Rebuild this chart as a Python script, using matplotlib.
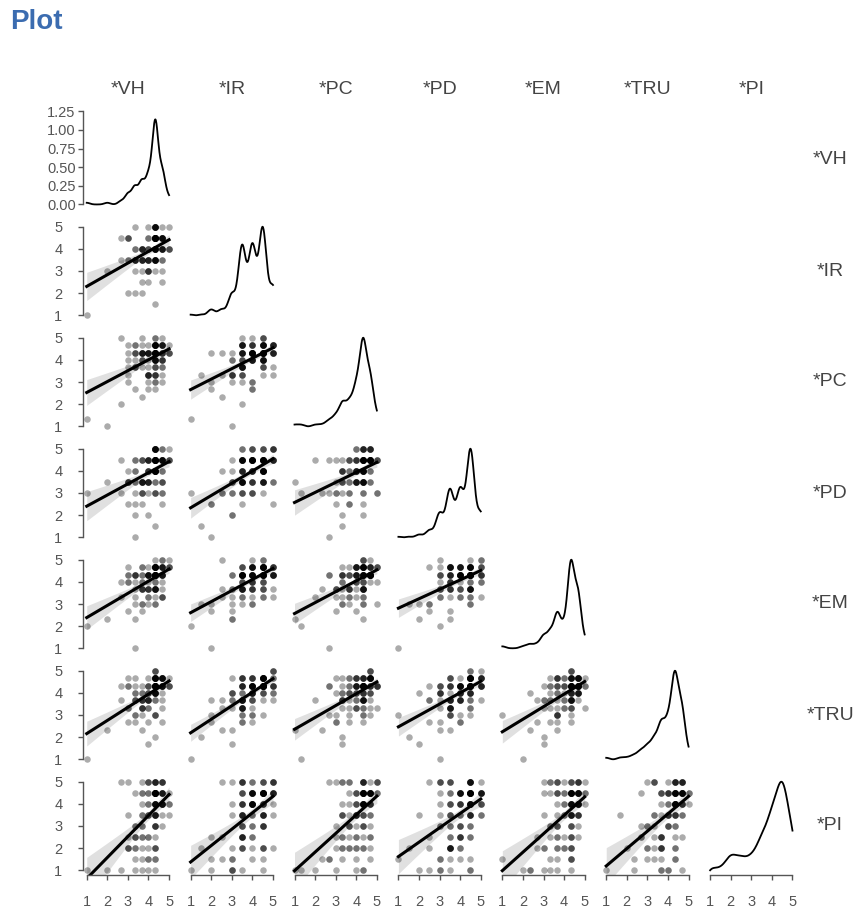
import numpy as np
import matplotlib
matplotlib.use("Agg")
import matplotlib.pyplot as plt

plt.rcParams["font.family"] = ["Liberation Sans", "DejaVu Sans"]

LABELS = ["*VH", "*IR", "*PC", "*PD", "*EM", "*TRU", "*PI"]

# respondent scale scores, same respondent order in every list
VH = [1, 3.33, 2, 4.33, 2.67, 3, 3.67, 3.33, 4.67, 3, 4, 4.33,
      3.67, 4, 3.33, 4.33, 3.67, 3, 4, 3.67, 4.33, 3.33, 4, 3.67, 4, 3.33, 3.67, 4.33, 4, 3.67, 4,
      4.33, 4.67, 3.33, 4.33, 4.33, 4.67, 5, 4, 3, 4.67, 4.33, 4, 4.67, 4.33, 3.33, 4.67, 4, 4.33, 4.67,
      4.33, 4.33, 4, 3, 3.67, 4.33, 4.33, 4.67, 4, 4.33, 4.33, 3.33, 4.33, 3.33, 4.33, 4.67, 3.67, 3.67,
      4.33, 4.33, 4, 4.33, 4.33, 3.33, 4, 4.33, 4.67, 3.67, 4.33, 3.67, 4.67, 4, 4.33, 4.67, 4.33,
      4.67, 4.33, 5, 4.33, 4.67, 4.33, 4.33, 4.33, 4.33, 4.33, 4.67, 2.67, 4.33, 4, 4.67, 5, 4.33, 4.33,
      4.33, 4.33, 4.67, 4.33, 4.33, 4.33, 4.33, 4.67, 3, 4.33, 5, 4.33, 4.33, 4.67, 3.67, 4.33, 4.33]
IR = [1, 2, 3, 1.5, 3.5, 2, 2.5, 3, 4, 3.5, 3, 4.5,
      3.5, 3, 3.5, 4, 2, 3.5, 3.5, 3, 4, 3.5, 2.5, 3.5, 3, 3.5, 4, 3.5, 3, 3.5, 3.5,
      4, 4.5, 3.5, 4, 4.5, 4, 5, 3.5, 4.5, 4, 4.5, 3.5, 4, 4.5, 4, 3.5, 4.5, 4, 4.5,
      4, 4.5, 3.5, 4.5, 4, 3.5, 4.5, 4, 5, 4.5, 4, 3.5, 4.5, 4, 3, 4.5, 3.5, 4,
      4.5, 4.5, 4, 3.5, 4.5, 5, 4, 4.5, 3.5, 4, 4.5, 3.5, 4.5, 4, 3.5, 4.5, 4,
      3, 5, 4, 4.5, 2.5, 5, 4.5, 3.5, 4.5, 5, 4, 4.5, 5, 4.5, 4.5, 4, 5, 4.5,
      3.5, 3.5, 5, 4.5, 4, 4.5, 3.5, 4.5, 4.5, 5, 4, 4.5, 5, 4.5, 4, 4.5, 5]
PC = [1.33, 2.67, 1, 3.33, 2, 3, 2.33, 4.33, 3, 3.67, 3.33, 4.33,
      4, 3.33, 3.67, 3, 4.33, 3.33, 3.67, 4, 2.67, 3.67, 3.33, 4, 3, 3.67, 4.33, 3.33, 4, 3.67, 3.33,
      4.33, 4, 4.67, 4.33, 3.67, 4, 4.33, 4.33, 4, 4.67, 3.33, 4.33, 4, 4.33, 4, 4.67, 4.33, 4, 4.33,
      4.33, 4, 4.33, 4.67, 4.33, 3.67, 4.33, 4, 3.33, 4.67, 4.33, 4.33, 4, 4.67, 3.33, 4.33, 4.67, 4.33,
      4, 4.33, 4.67, 4.33, 3.67, 4.33, 2.67, 4.33, 4.67, 4.33, 4, 4.33, 4.67, 4.33, 4, 4.67, 4.33,
      3.33, 4.33, 4.67, 5, 4.33, 4.67, 4.33, 3, 4, 4.67, 4.33, 5, 4.67, 4.33, 3.67, 4.33, 4.67, 4.33,
      5, 4.67, 3.67, 4.67, 4, 4.33, 4.67, 5, 4.33, 4.67, 4.33, 4.67, 4.33, 4.67, 5, 4.67, 4.33]
PD = [3, 1, 3.5, 1.5, 4.5, 2.5, 3, 2, 3, 3.5, 2, 4,
      3.5, 4, 3, 3.5, 2.5, 3.5, 4, 3.5, 3, 3.5, 4, 3.5, 3, 2.5, 3.5, 4, 3.5, 3, 3.5,
      4.5, 3.5, 4, 4.5, 4, 5, 4.5, 3.5, 4, 4.5, 4, 4.5, 3.5, 4, 4.5, 4.5, 3.5, 4, 4.5,
      4.5, 4, 4.5, 3.5, 3, 4.5, 4.5, 4, 3.5, 4.5, 5, 4, 4.5, 4.5, 3, 4, 4.5, 3.5,
      4.5, 4, 4.5, 4, 4.5, 3.5, 4.5, 4, 5, 4.5, 4, 3.5, 4.5, 4, 4.5, 3.5, 4,
      4.5, 5, 4.5, 4.5, 3, 5, 4.5, 4.5, 5, 4.5, 4.5, 3, 5, 4.5, 4.5, 5, 4.5,
      3.5, 3, 5, 2.5, 4.5, 4, 5, 4.5, 4.5, 3.5, 4.5, 4.5, 4, 5, 4.5, 4.5, 5, 4.5]
EM = [2, 1, 2.33, 3, 3.33, 2.67, 3.67, 2.33, 3.33, 4.33, 3, 3.67,
      3.67, 4.33, 3.33, 3.67, 3, 4, 3.67, 2.67, 4.33, 3.67, 3.33, 4, 3.67, 3, 3.67, 4.33, 3.33, 3.67, 4,
      4.33, 4.67, 4.33, 3.67, 4.33, 4, 4.67, 4.33, 4.33, 4.67, 4.33, 3.67, 4.33, 4.67, 4, 4.33, 4.33, 4.67, 4.33,
      3, 4.67, 4.33, 4, 4.33, 4.33, 3.67, 4.33, 4.67, 4.33, 4, 4.33, 4.67, 4.33, 4.33, 3.33, 4.33, 4.67,
      4.33, 4, 4.33, 4.67, 3.67, 4.33, 4.33, 4.67, 4.33, 4, 4.33, 4.67, 4.33, 3.67, 4.33, 4.67, 4.33,
      3.67, 4.33, 4.67, 4.67, 5, 4.33, 4.67, 3.67, 4.67, 4.33, 4.67, 4, 4.67, 4.33, 3.33, 5, 4.33, 4.67,
      4.67, 4.33, 4.67, 4.33, 4.67, 5, 4.33, 4.67, 4.67, 4.33, 4.67, 4.33, 3.33, 5, 3, 4.67, 3.67]
TRU = [1, 3, 2.33, 2, 3.67, 2.67, 2.33, 4, 2.67, 3.33, 1.67, 3,
       3.33, 3.67, 4, 3, 3.67, 3.33, 2.67, 3.67, 4.33, 3, 3.67, 3.33, 4, 3.67, 3, 3.67, 3.33, 4, 3.67,
       4, 4.33, 3.67, 4.33, 4, 4.67, 4.33, 3.33, 4.33, 4, 4.33, 3.67, 4.33, 4, 4.67, 4.33, 3.67, 4, 4.33,
       4.33, 4, 4.67, 4.33, 3.67, 4.33, 4.33, 3.67, 4, 4.33, 3.67, 2.67, 4.67, 4.33, 4, 4.33, 3.33, 4.33,
       4.67, 4.33, 4, 4.33, 4.67, 3.67, 4.33, 4.33, 4.67, 4, 4.33, 3.67, 4.67, 4.33, 4.33, 4.67, 4.33,
       4.67, 4.33, 4.67, 4.33, 3.33, 5, 4.33, 4.67, 4.33, 4, 4.67, 4.33, 4.67, 4.33, 4.67, 4.33, 5, 4.67,
       4.33, 4.67, 4.33, 4.67, 4, 4.33, 3, 4.33, 4.67, 5, 4.33, 4.67, 4.33, 4.67, 3.33, 4.67, 4.67]
PI = [1, 1.5, 1, 2, 1, 2.5, 1.5, 1, 3, 2, 3.5, 2,
      2.5, 1.5, 3, 2, 1, 3.5, 2.5, 2, 1.5, 3, 2.5, 3.5, 1, 2, 3, 2.5, 1.5, 3.5, 2,
      3.5, 4, 2.5, 4.5, 3, 4, 3.5, 5, 2, 4, 3.5, 4.5, 4, 3, 2.5, 4, 3.5, 4.5, 4,
      4.5, 3.5, 4, 2, 4.5, 4, 3, 4.5, 5, 1.5, 4, 4.5, 3.5, 2.5, 4, 4.5, 3, 4,
      1, 4.5, 3.5, 4, 4.5, 2, 5, 4, 3.5, 4.5, 3, 2.5, 4.5, 4, 3.5, 4.5, 4,
      5, 4.5, 4, 4.5, 5, 4.5, 4.5, 5, 3.5, 4.5, 4, 5, 4.5, 4.5, 5, 4.5, 4, 4.5,
      5, 4.5, 5, 4.5, 4.5, 4, 5, 4.5, 5, 4.5, 4, 4.5, 5, 4.5, 5, 4.5, 5]

DATA = [VH, IR, PC, PD, EM, TRU, PI]
assert all(len(d) == 120 for d in DATA), [len(d) for d in DATA]

DENSITY_TICKS = [0, 0.25, 0.5, 0.75, 1.0, 1.25]
SCALE_TICKS = [1, 2, 3, 4, 5]
BW_ADJUST = 0.62

W, H = 866, 909
TICK_GRAY = "#555555"


def kde(values, grid):
    x = np.asarray(values, float)
    bw = BW_ADJUST * x.std(ddof=1) * len(x) ** (-1 / 5)
    z = (grid[:, None] - x[None, :]) / bw
    return np.exp(-0.5 * z ** 2).sum(axis=1) / (len(x) * bw * np.sqrt(2 * np.pi))


def reg_fit(x, y, grid):
    slope, intercept = np.polyfit(x, y, 1)
    fit = intercept + slope * grid
    resid = y - (intercept + slope * x)
    n = len(x)
    s = np.sqrt((resid ** 2).sum() / (n - 2))
    se = s * np.sqrt(1 / n + (grid - x.mean()) ** 2 / ((x - x.mean()) ** 2).sum())
    return fit, 1.98 * se


def panel_rect(i, j):
    left = 82.6 + 103.9 * j
    top = 111.3 + 111.0 * i
    return [left / W, 1 - (top + 97.4) / H, 90.6 / W, 97.4 / H]


def style(ax, show_x, show_y):
    for side in ["top", "right"]:
        ax.spines[side].set_visible(False)
    ax.spines["left"].set_visible(show_y)
    ax.spines["bottom"].set_visible(show_x)
    for side in ["left", "bottom"]:
        ax.spines[side].set_color(TICK_GRAY)
        ax.spines[side].set_linewidth(1.0)
    ax.tick_params(axis="both", direction="out", length=3.5, width=1.0,
                   color=TICK_GRAY, labelcolor=TICK_GRAY, labelsize=10.5)
    ax.tick_params(axis="x", bottom=show_x, labelbottom=show_x, pad=11)
    ax.tick_params(axis="y", left=show_y, labelleft=show_y, pad=11)


fig = plt.figure(figsize=(W / 100, H / 100), dpi=100)
n = len(DATA)

for i in range(n):
    yv = np.asarray(DATA[i], float)
    for j in range(i + 1):
        xv = np.asarray(DATA[j], float)
        ax = fig.add_axes(panel_rect(i, j))
        ax.set_xlim(0.8, 5.2)
        if i == j:
            grid = np.linspace(xv.min(), xv.max(), 300)
            ax.plot(grid, kde(xv, grid), color="black", lw=1.3)
            ax.margins(y=0.05)
            style(ax, show_x=(i == n - 1), show_y=(i == 0))
            if i == 0:
                ax.set_yticks(DENSITY_TICKS)
                ax.set_yticklabels([f"{t:.2f}" for t in DENSITY_TICKS])
                ax.spines["left"].set_bounds(0, 1.25)
                ax.tick_params(axis="y", pad=1.5)
        else:
            ax.scatter(xv, yv, s=22, color="black", alpha=0.33, linewidths=0)
            grid = np.linspace(xv.min(), xv.max(), 100)
            fit, ci = reg_fit(xv, yv, grid)
            ax.fill_between(grid, fit - ci, fit + ci, color="black", alpha=0.12, lw=0)
            ax.plot(grid, fit, color="black", lw=2.2)
            ax.set_ylim(0.8, 5.2)
            ax.set_yticks(SCALE_TICKS)
            style(ax, show_x=(i == n - 1), show_y=(j == 0))
            ax.spines["left"].set_bounds(1, 5)
        ax.set_xticks(SCALE_TICKS)
        ax.spines["bottom"].set_bounds(1, 5)

for k, label in enumerate(LABELS):
    cx = (82.6 + 103.9 * k + 45.3) / W
    fig.text(cx, 1 - 90 / H, label, ha="center", va="center", fontsize=14, color="#444444")
    cy = 1 - (111.3 + 111.0 * k + 48.7) / H
    fig.text(830 / W, cy, label, ha="center", va="center", fontsize=14, color="#444444")

fig.text(10 / W, 1 - 22 / H, "Plot", ha="left", va="center", fontsize=20,
         fontweight="bold", color="#3b6cb0")

fig.savefig("out.png", dpi=100)
